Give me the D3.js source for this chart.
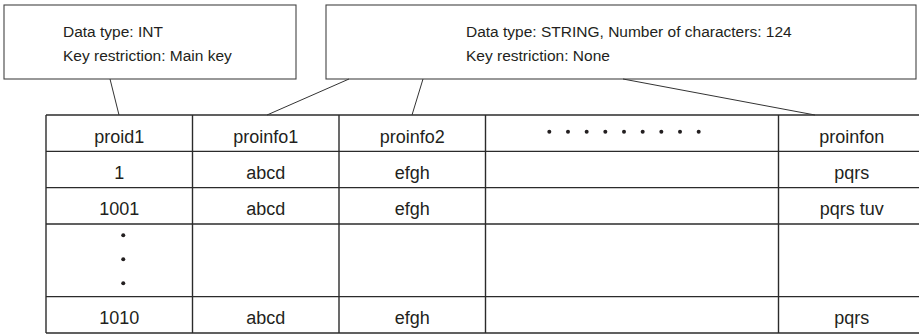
<!DOCTYPE html>
<html>
<head>
<meta charset="utf-8">
<script src="https://cdn.jsdelivr.net/npm/d3@7"></script>
<style>
  html, body { margin: 0; padding: 0; background: #fff; }
  svg { display: block; }
  text { font-family: "Liberation Sans", Arial, Helvetica, sans-serif; fill: #231f20; }
</style>
</head>
<body>
<script>
// ---- data ----
const headers = ["proid1", "proinfo1", "proinfo2", "", "proinfon"];
const rowIds = ["1", "1001", "", "1010"];
const rowInfo1 = ["abcd", "abcd", "", "abcd"];
const rowInfo2 = ["efgh", "efgh", "", "efgh"];
const rowInfoN = ["pqrs", "pqrs tuv", "", "pqrs"];
const columnUnits = [1, 1, 1, 2, 1];          // relative column widths
const rowUnits = [1, 1, 1, 2, 1];             // header + 4 body rows
const ellipsisRow = 2;                        // body row holding vertical dots
const notes = [
  ["Data type: INT", "Key restriction: Main key"],
  ["Data type: STRING, Number of characters: 124", "Key restriction: None"]
];
const noteTargets = [[0], [1, 2, 4]];         // which columns each note points to

// ---- layout ----
const W = 919, H = 336;
const svg = d3.select("body").append("svg").attr("width", W).attr("height", H);

const tableLeft = 46, tableTop = 115, tableBottom = 333, unitW = 146.5;
const colEdges = [0];
columnUnits.forEach(u => colEdges.push(colEdges[colEdges.length - 1] + u));
const rowEdges = [0];
rowUnits.forEach(u => rowEdges.push(rowEdges[rowEdges.length - 1] + u));

const x = d3.scaleLinear().domain([0, 1]).range([tableLeft, tableLeft + unitW]);
const y = d3.scaleLinear().domain([0, rowEdges[rowEdges.length - 1]]).range([tableTop, tableBottom]);

const lineColor = "#2b2b2b";
const g = svg.append("g");

// horizontal lines
g.selectAll("line.h").data(rowEdges).join("line")
  .attr("x1", x(0)).attr("x2", x(colEdges[colEdges.length - 1]))
  .attr("y1", d => y(d)).attr("y2", d => y(d))
  .attr("stroke", lineColor).attr("stroke-width", 1.4);
// vertical lines
g.selectAll("line.v").data(colEdges).join("line")
  .attr("x1", d => x(d)).attr("x2", d => x(d))
  .attr("y1", y(0)).attr("y2", y(rowEdges[rowEdges.length - 1]))
  .attr("stroke", lineColor).attr("stroke-width", 1.4);

const colCenter = i => (x(colEdges[i]) + x(colEdges[i + 1])) / 2;
const rowCenter = i => (y(rowEdges[i]) + y(rowEdges[i + 1])) / 2;
const fs = 18;

// header texts
g.selectAll("text.hdr").data(headers).join("text")
  .attr("x", (d, i) => colCenter(i))
  .attr("y", rowCenter(0) + 9.5)
  .attr("text-anchor", "middle").attr("font-size", fs)
  .text(d => d);

// horizontal ellipsis in header column 4
const hDots = d3.range(9);
const dotStep = 18.67;
const dotsStart = colCenter(3) - 8 - dotStep * 4;
g.selectAll("circle.hd").data(hDots).join("circle")
  .attr("cx", d => dotsStart + d * dotStep)
  .attr("cy", rowCenter(0) - 1.5)
  .attr("r", 2).attr("fill", "#231f20");

// body texts
const bodyCols = [[0, rowIds], [1, rowInfo1], [2, rowInfo2], [4, rowInfoN]];
bodyCols.forEach(([ci, vals]) => {
  g.selectAll(null).data(vals).join("text")
    .attr("x", colCenter(ci))
    .attr("y", (d, r) => rowCenter(r + 1) + 9.5)
    .attr("text-anchor", "middle").attr("font-size", fs)
    .text(d => d);
});

// vertical ellipsis
const vDots = [-1, 0, 1];
g.selectAll("circle.vd").data(vDots).join("circle")
  .attr("cx", colCenter(0) + 4)
  .attr("cy", d => rowCenter(ellipsisRow + 1) - 1 + d * 24)
  .attr("r", 2).attr("fill", "#231f20");

// ---- annotation boxes ----
const boxes = [
  { x0: 4, x1: 296, tx: 63, anchors: [110] },
  { x0: 326, x1: 916, tx: 466, anchors: [349, 423, 623] }
];
const boxTop = 5, boxBottom = 79;
const targetX = [119, 267, 412, null, 815];

boxes.forEach((b, bi) => {
  svg.append("rect")
    .attr("x", b.x0).attr("y", boxTop)
    .attr("width", b.x1 - b.x0).attr("height", boxBottom - boxTop)
    .attr("fill", "none").attr("stroke", "#444").attr("stroke-width", 1.1);
  svg.selectAll(null).data(notes[bi]).join("text")
    .attr("x", b.tx).attr("y", (d, i) => 36.5 + i * 24)
    .attr("font-size", 15.5)
    .text(d => d);
  svg.selectAll(null).data(noteTargets[bi]).join("line")
    .attr("x1", (d, i) => b.anchors[i]).attr("y1", boxBottom)
    .attr("x2", d => targetX[d]).attr("y2", tableTop)
    .attr("stroke", "#333").attr("stroke-width", 1);
});
</script>
</body>
</html>
